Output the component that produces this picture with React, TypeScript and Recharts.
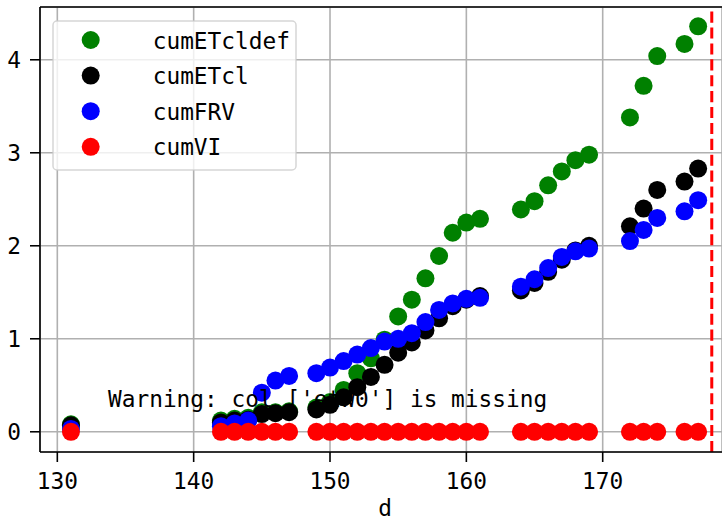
import { ScatterChart, Scatter, XAxis, YAxis, CartesianGrid, ReferenceLine } from 'recharts'

const DAYS = [
  131, 142, 143, 144, 145, 146, 147, 149, 150, 151, 152, 153, 154, 155, 156, 157, 158, 159, 160, 161,
  164, 165, 166, 167, 168, 169, 172, 173, 174, 176, 177,
]

const CUM_ETCL_DEF = [
  0.08, 0.12, 0.14, 0.15, 0.21, 0.21, 0.22, 0.26, 0.32, 0.45, 0.63, 0.79, 0.99, 1.24, 1.42, 1.65, 1.89, 2.14, 2.25, 2.29,
  2.39, 2.48, 2.65, 2.8, 2.92, 2.98, 3.38, 3.72, 4.04, 4.17, 4.36,
]

const CUM_ETCL = [
  0.07, 0.1, 0.12, 0.13, 0.19, 0.2, 0.21, 0.24, 0.29, 0.37, 0.48, 0.59, 0.72, 0.85, 0.96, 1.09, 1.22, 1.35, 1.42, 1.46,
  1.52, 1.6, 1.72, 1.85, 1.95, 2.0, 2.21, 2.4, 2.6, 2.69, 2.83,
]

const CUM_FRV = [
  0.03, 0.06, 0.09, 0.12, 0.42, 0.55, 0.6, 0.63, 0.69, 0.76, 0.83, 0.9, 0.97, 1.0, 1.06, 1.18, 1.31, 1.38, 1.43, 1.44,
  1.56, 1.64, 1.76, 1.88, 1.94, 1.97, 2.05, 2.17, 2.3, 2.37, 2.49,
]

const CUM_VI = [
  0, 0, 0, 0, 0, 0, 0, 0, 0, 0, 0, 0, 0, 0, 0, 0, 0, 0, 0, 0,
  0, 0, 0, 0, 0, 0, 0, 0, 0, 0, 0,
]

const X_TICKS = [130, 140, 150, 160, 170]
const Y_TICKS = [0, 1, 2, 3, 4]
const CUTOFF_DAY = 178
const WARNING = "Warning: col ['etW0'] is missing"

const X_DOMAIN = [128.73, 178.75]
const Y_DOMAIN = [-0.2175, 4.5675]

const SERIES = [
  { name: 'cumETcldef', color: '#008000', values: CUM_ETCL_DEF },
  { name: 'cumETcl', color: '#000000', values: CUM_ETCL },
  { name: 'cumFRV', color: '#0000ff', values: CUM_FRV },
  { name: 'cumVI', color: '#ff0000', values: CUM_VI },
]

const FONT = '"DejaVu Sans Mono", monospace'
const FS = 22.8

const dot = (color: string) => (props: any) => <circle cx={props.cx} cy={props.cy} r={9} fill={color} />

export default function App() {
  const axisStroke = { stroke: '#000', strokeWidth: 1.6 }
  return (
    <div style={{ position: 'absolute', left: 0, top: 0, width: 722, height: 522, fontFamily: FONT, background: '#fff' }}>
      <ScatterChart width={722} height={522} margin={{ top: 7, right: 0, left: 0, bottom: 0 }}>
        <CartesianGrid stroke="#b0b0b0" strokeWidth={1.6} />
        <XAxis
          type="number"
          dataKey="d"
          domain={X_DOMAIN}
          ticks={X_TICKS}
          allowDataOverflow
          height={70}
          tickSize={10}
          tickMargin={11}
          axisLine={axisStroke}
          tickLine={axisStroke}
          tick={{ fontSize: FS, fill: '#000' }}
          label={{ value: 'd', position: 'insideBottom', offset: 6, dx: 4, fontSize: FS, fill: '#000' }}
        />
        <YAxis
          type="number"
          dataKey="v"
          domain={Y_DOMAIN}
          ticks={Y_TICKS}
          allowDataOverflow
          width={40}
          tickSize={10}
          tickMargin={9}
          axisLine={axisStroke}
          tickLine={axisStroke}
          tick={{ fontSize: FS, fill: '#000' }}
        />
        <ReferenceLine y={Y_DOMAIN[1]} stroke="#000" strokeWidth={1.6} ifOverflow="visible" />
        {SERIES.map((s) => (
          <Scatter
            key={s.name}
            name={s.name}
            data={DAYS.map((d, i) => ({ d, v: s.values[i] }))}
            fill={s.color}
            shape={dot(s.color)}
            isAnimationActive={false}
          />
        ))}
        <ReferenceLine x={CUTOFF_DAY} stroke="#ff0000" strokeWidth={3} strokeDasharray="11.1 4.8" />
      </ScatterChart>
      <svg
        width={722}
        height={522}
        style={{ position: 'absolute', left: 0, top: 0, pointerEvents: 'none', fontFamily: FONT }}
      >
        <text x={108} y={407} fontSize={FS} fill="#000">
          {WARNING}
        </text>
        <rect
          x={53}
          y={21}
          width={243}
          height={149}
          rx={4}
          fill="#fff"
          fillOpacity={0.8}
          stroke="#cccccc"
          strokeOpacity={0.8}
          strokeWidth={1.5}
        />
        {SERIES.map((s, i) => (
          <g key={s.name}>
            <circle cx={90.7} cy={40 + i * 35.6} r={9} fill={s.color} />
            <text x={152.7} y={40 + i * 35.6 + 8.5} fontSize={FS} fill="#000">
              {s.name}
            </text>
          </g>
        ))}
      </svg>
    </div>
  )
}
